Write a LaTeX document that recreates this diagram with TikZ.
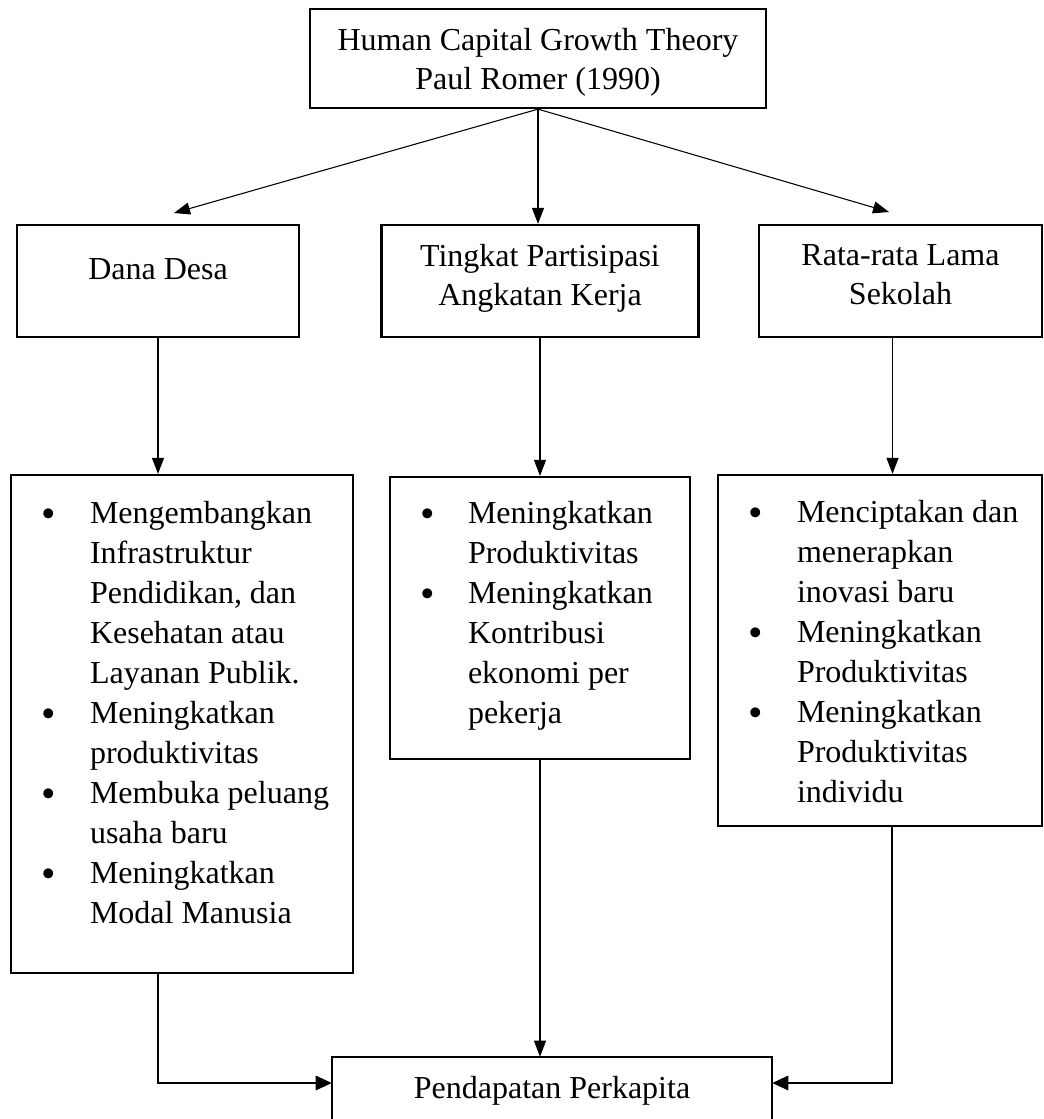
\documentclass[tikz,border=0pt]{standalone}
\usepackage{fontspec}
\setmainfont{Liberation Serif}
\usetikzlibrary{arrows.meta,calc}
\newdimen\pxd \pxd=0.75pt
% #1 hanging indent (px), #2 bullet left offset (px), #3 text
\newcommand\bitem[3]{\par\noindent\hangindent=#1\pxd\hangafter=1\hbox to #1\pxd{\hskip #2\pxd\raisebox{-4\pxd}{\fontsize{31pt}{30pt}\selectfont\textbullet}\hfil}#3\par}
\begin{document}
\begin{tikzpicture}[x=0.75pt,y=-0.75pt,
  box/.style 2 args={draw,line width=1.7pt,inner sep=0pt,minimum width={#1*0.75pt},minimum height={#2*0.75pt}},
  tb/.style 2 args={text height={#1*0.75pt},text depth={#2*0.75pt}},
  conn/.style={line width=0.8pt},
  tip/.style={-{Triangle[length=12pt,width=9pt]}},
  tipB/.style={-{Triangle[length=12pt,width=11pt]}},
  every node/.style={font=\fontsize{24pt}{29pt}\selectfont}]
\useasboundingbox (0,0) rectangle (1044,1119);

% top
\node[box={456}{99},tb={42}{57}] (top) at (538,58.5)
  {\parbox[t]{456\pxd}{\centering Human Capital Growth Theory\\Paul Romer (1990)}};

% middle row
\node[box={282}{112},tb={55}{57}] (dana) at (158,281) {Dana Desa};
\node[box={317}{112},tb={42}{70}] (tpak) at (540,281)
  {\parbox[t]{317\pxd}{\centering Tingkat Partisipasi\\Angkatan Kerja}};
\node[box={283}{112},tb={41}{71}] (rls) at (900.5,281)
  {\parbox[t]{283\pxd}{\centering Rata-rata Lama\\Sekolah}};

% lower row
\node[box={342}{498},tb={48}{450}] (L) at (182,724)
  {\parbox[t]{342\pxd}{\fontsize{24pt}{30pt}\selectfont\raggedright
   \bitem{79}{30}{Mengembangkan\newline Infrastruktur\newline Pendidikan, dan\newline Kesehatan atau\newline Layanan Publik.}
   \bitem{79}{30}{Meningkatkan\newline produktivitas}
   \bitem{79}{30}{Membuka peluang\newline usaha baru}
   \bitem{79}{30}{Meningkatkan\newline Modal Manusia}}};
\node[box={300}{282},tb={46}{236}] (M) at (540,618)
  {\parbox[t]{300\pxd}{\fontsize{24pt}{30pt}\selectfont\raggedright
   \bitem{78}{30}{Meningkatkan\newline Produktivitas}
   \bitem{78}{30}{Meningkatkan\newline Kontribusi\newline ekonomi per\newline pekerja}}};
\node[box={324}{351},tb={47}{304}] (R) at (880,650.5)
  {\parbox[t]{324\pxd}{\fontsize{24pt}{30pt}\selectfont\raggedright
   \bitem{79}{30}{Menciptakan dan\newline menerapkan\newline inovasi baru}
   \bitem{79}{30}{Meningkatkan\newline Produktivitas}
   \bitem{79}{30}{Meningkatkan\newline Produktivitas\newline individu}}};

% bottom box (bottom edge lies outside the picture)
\node[inner sep=0pt,minimum width={440*0.75pt},minimum height={52*0.75pt},tb={41}{11}] (bot) at (552,1083) {Pendapatan Perkapita};
\draw[line width=1.7pt] ($(bot.north west)+(0,80)$) -- (bot.north west) -- (bot.north east) -- ($(bot.north east)+(0,80)$);

% free arrow ends
\coordinate (aL) at (174,213);
\coordinate (aR) at (889,212);

% connectors
\draw[conn,tip] (top.south) -- (aL);
\draw[conn,tip] (top.south) -- (top.south |- tpak.north);
\draw[conn,tip] (top.south) -- (aR);

\draw[conn,tip] (dana.south) -- (dana.south |- L.north);
\draw[conn,tip] (tpak.south) -- (tpak.south |- M.north);
\draw[conn,tip] ([xshift=-6pt]rls.south) -- ([xshift=-6pt]rls.south |- R.north);

\draw[conn,tipB] ([xshift=-18pt]L.south) |- (bot.west);
\draw[conn,tip] (M.south) -- (M.south |- bot.north);
\draw[conn,tipB] ([xshift=9pt]R.south) |- (bot.east);
\end{tikzpicture}
\end{document}
